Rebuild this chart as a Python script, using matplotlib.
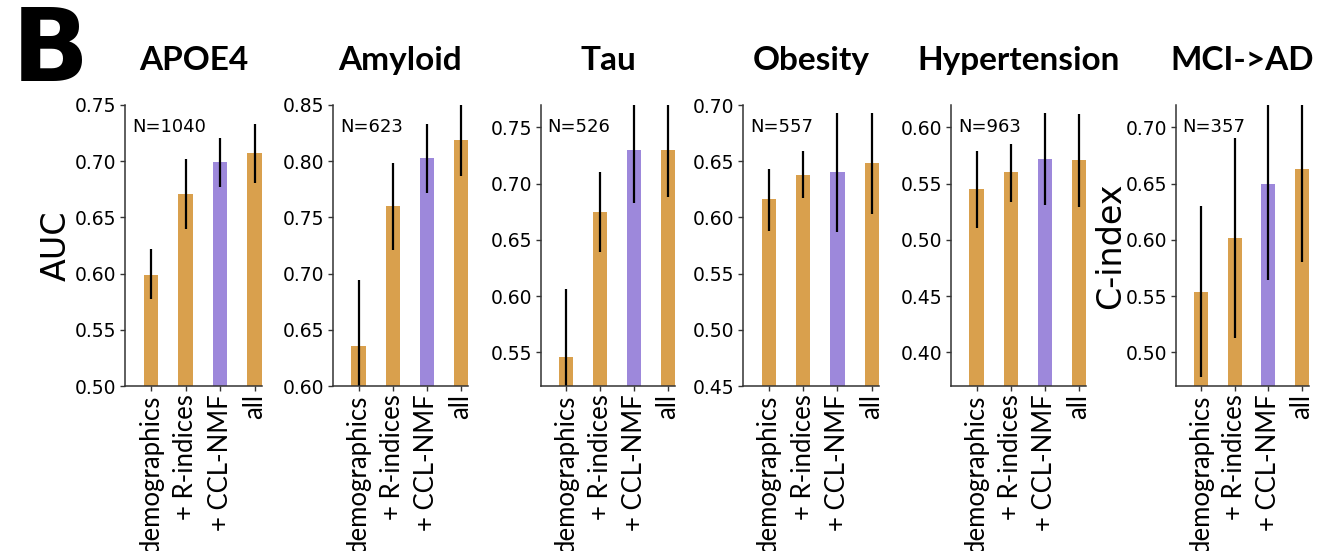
import numpy as np
import matplotlib
matplotlib.use("Agg")
import matplotlib.pyplot as plt

# bar labels, shared by every panel
conditions = ["demographics", "+ R-indices", "+ CCL-NMF", "all"]

titles = ["APOE4", "Amyloid", "Tau", "Obesity", "Hypertension", "MCI->AD"]
n_labels = ["N=1040", "N=623", "N=526", "N=557", "N=963", "N=357"]
ylabels = ["AUC", "", "", "", "", "C-index"]

# mean scores per panel
apoe4 = [0.599, 0.671, 0.699, 0.707]
amyloid = [0.636, 0.760, 0.803, 0.819]
tau = [0.546, 0.675, 0.730, 0.730]
obesity = [0.616, 0.638, 0.640, 0.648]
hypertension = [0.545, 0.560, 0.572, 0.571]
mci_ad = [0.554, 0.602, 0.650, 0.663]

# error bar ends
apoe4_lo = [0.577, 0.640, 0.677, 0.681]
apoe4_hi = [0.622, 0.702, 0.721, 0.733]
amyloid_lo = [0.578, 0.721, 0.772, 0.787]
amyloid_hi = [0.694, 0.798, 0.833, 0.851]
tau_lo = [0.486, 0.639, 0.683, 0.688]
tau_hi = [0.606, 0.710, 0.777, 0.772]
obesity_lo = [0.588, 0.617, 0.587, 0.603]
obesity_hi = [0.643, 0.659, 0.693, 0.693]
hypertension_lo = [0.511, 0.534, 0.531, 0.529]
hypertension_hi = [0.579, 0.585, 0.613, 0.612]
mci_ad_lo = [0.478, 0.513, 0.564, 0.580]
mci_ad_hi = [0.630, 0.691, 0.736, 0.745]

ylims = [(0.50, 0.75), (0.60, 0.85), (0.52, 0.77), (0.45, 0.70), (0.37, 0.62), (0.47, 0.72)]
yticks = [[0.50, 0.55, 0.60, 0.65, 0.70, 0.75],
          [0.60, 0.65, 0.70, 0.75, 0.80, 0.85],
          [0.55, 0.60, 0.65, 0.70, 0.75],
          [0.45, 0.50, 0.55, 0.60, 0.65, 0.70],
          [0.40, 0.45, 0.50, 0.55, 0.60],
          [0.50, 0.55, 0.60, 0.65, 0.70]]

means = [apoe4, amyloid, tau, obesity, hypertension, mci_ad]
lows = [apoe4_lo, amyloid_lo, tau_lo, obesity_lo, hypertension_lo, mci_ad_lo]
highs = [apoe4_hi, amyloid_hi, tau_hi, obesity_hi, hypertension_hi, mci_ad_hi]

orange = "#d9a04d"
purple = "#9d88db"
colors = [orange, orange, purple, orange]

W, H = 1329, 551
fig = plt.figure(figsize=(W / 100, H / 100), dpi=100)

# axes left/right edges in pixels
left_px = [125, 333, 541, 743, 951, 1176]
right_px = [262, 468, 675, 879, 1086, 1309]
top_px, bot_px = 105, 386
# right edge of the y label (pixels)
ylab_px = [73, 0, 0, 0, 0, 1127]

for i in range(6):
    w = right_px[i] - left_px[i]
    ax = fig.add_axes([left_px[i] / W, 1 - bot_px / H, w / W, (bot_px - top_px) / H])
    x = np.arange(len(conditions))
    m = np.array(means[i])
    err = [m - np.array(lows[i]), np.array(highs[i]) - m]
    ax.bar(x, m, width=0.42, color=colors, zorder=1)
    ax.errorbar(x, m, yerr=err, fmt="none", ecolor="black", elinewidth=1.6, capsize=0, zorder=2)
    ax.set_xlim(-0.75, 3.21)
    ax.set_ylim(ylims[i])
    ax.set_yticks(yticks[i])
    ax.set_yticklabels(["%.2f" % t for t in yticks[i]], fontsize=13.5)
    ax.set_xticks(x)
    ax.set_xticklabels(conditions, rotation=90, fontsize=18.5, family="Lato")
    ax.spines["top"].set_visible(False)
    ax.spines["right"].set_visible(False)
    for s in ["left", "bottom"]:
        ax.spines[s].set_color("#333333")
        ax.spines[s].set_linewidth(1.1)
    ax.tick_params(length=3.5, width=1.0, color="#333333", pad=2.5)
    ax.set_title(titles[i], fontsize=24, fontweight="bold", family="Lato", pad=25)
    ax.text(0.05, 0.92, n_labels[i], transform=ax.transAxes, fontsize=13, va="center", ha="left")
    if ylabels[i]:
        ax.set_ylabel(ylabels[i], fontsize=24)
        ax.yaxis.set_label_coords((ylab_px[i] - left_px[i]) / w, 0.5)

fig.text(12 / W, 1 - 81 / H, "B", fontsize=73, fontweight="bold", family="DejaVu Sans",
         va="baseline", ha="left")

fig.savefig("out.png", dpi=100)
